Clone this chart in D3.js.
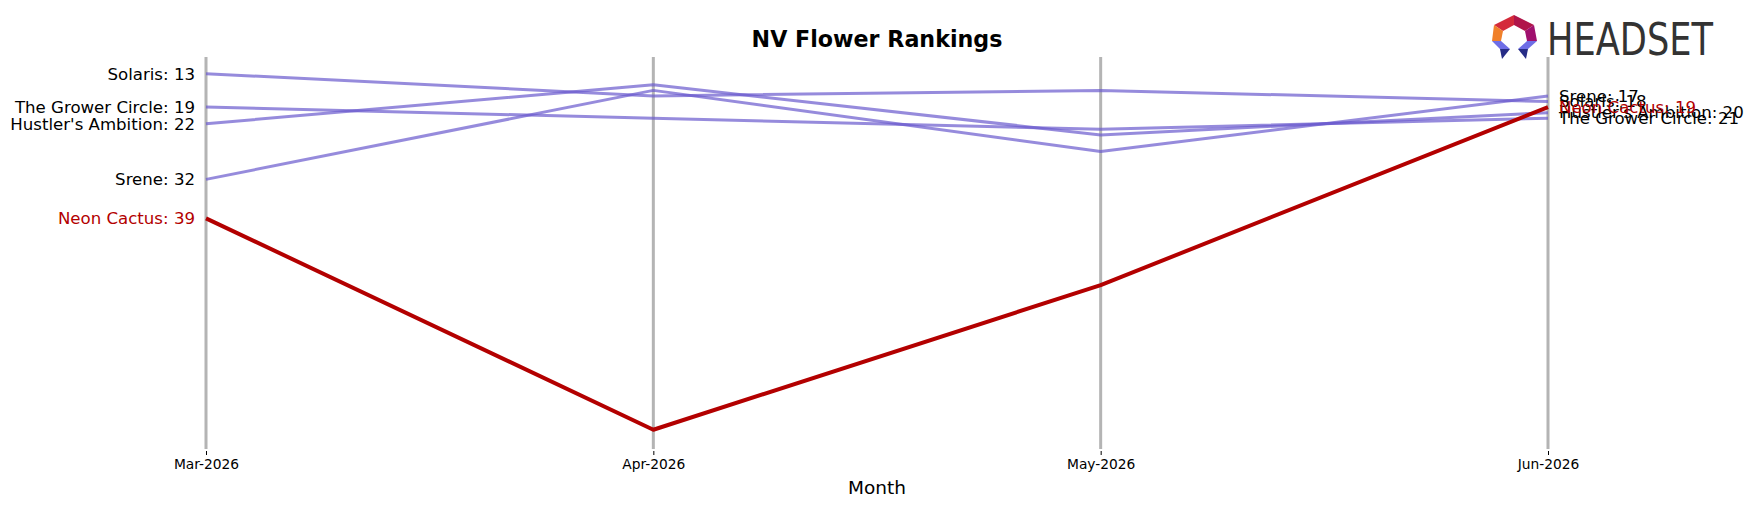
<!DOCTYPE html>
<html>
<head>
<meta charset="utf-8">
<script src="https://cdn.jsdelivr.net/npm/d3@7/dist/d3.min.js"></script>
<style>
    html, body { margin: 0; padding: 0; background: #fff; }
    text { font-family: "DejaVu Sans", sans-serif; }
</style>
</head>
<body>
<div id="chart"></div>
<script>
// 数据
const months = ["Mar-2026", "Apr-2026", "May-2026", "Jun-2026"];
const brandNames = ["Solaris", "The Grower Circle", "Hustler's Ambition", "Srene", "Neon Cactus"];
const solaris = [13, 17, 16, 18];
const growerCircle = [19, 21, 23, 21];
const hustlersAmbition = [22, 15, 24, 20];
const srene = [32, 16, 27, 17];
const neonCactus = [39, 77, 51, 19];
const highlightBrand = "Neon Cactus";

const seriesList = [solaris, growerCircle, hustlersAmbition, srene, neonCactus];
const brands = brandNames.map((name, i) => ({ name, ranks: seriesList[i] }));

// 尺寸
const width = 1754, height = 507;
const plot = { left: 206, right: 1548, top: 57, bottom: 452 };

const svg = d3.select("#chart").append("svg")
    .attr("width", width)
    .attr("height", height);

const allRanks = seriesList.flat();
const x = d3.scalePoint().domain(months).range([plot.left, plot.right]);
const y = d3.scaleLinear()
    .domain([d3.min(allRanks) - 3, d3.max(allRanks) + 4])
    .range([plot.top, plot.bottom]);

// 竖线
svg.append("g")
    .selectAll("line")
    .data(months)
    .enter().append("line")
    .attr("x1", d => x(d)).attr("x2", d => x(d))
    .attr("y1", plot.top).attr("y2", plot.bottom - 3)
    .attr("stroke", "#b4b4b4")
    .attr("stroke-width", 3);

// x 轴
const xAxis = svg.append("g")
    .attr("transform", `translate(0,${plot.bottom - 1})`)
    .call(d3.axisBottom(x).tickSize(4).tickPadding(4));
xAxis.select(".domain").remove();
xAxis.selectAll("text")
    .style("font-family", "DejaVu Sans")
    .style("font-size", "13.8px")
    .attr("fill", "#000");
xAxis.selectAll(".tick line").attr("stroke", "#000");

svg.append("text")
    .attr("x", (plot.left + plot.right) / 2)
    .attr("y", 494)
    .attr("text-anchor", "middle")
    .style("font-size", "18.5px")
    .text("Month");

// 标题
svg.append("text")
    .attr("x", (plot.left + plot.right) / 2)
    .attr("y", 47)
    .attr("text-anchor", "middle")
    .style("font-size", "22.2px")
    .style("font-weight", "bold")
    .text("NV Flower Rankings");

// 折线
const line = d3.line()
    .x((d, i) => x(months[i]))
    .y(d => y(d));

const ordered = brands.filter(b => b.name !== highlightBrand)
    .concat(brands.filter(b => b.name === highlightBrand));

svg.append("g")
    .selectAll("path")
    .data(ordered)
    .enter().append("path")
    .attr("d", d => line(d.ranks))
    .attr("fill", "none")
    .attr("stroke", d => d.name === highlightBrand ? "#b30000" : "#6a5acd")
    .attr("stroke-opacity", d => d.name === highlightBrand ? 1 : 0.7)
    .attr("stroke-width", d => d.name === highlightBrand ? 4 : 3)
    .attr("stroke-linejoin", "round");

// 左右标签
const labelColor = d => d.name === highlightBrand ? "#b30000" : "#000";

svg.append("g")
    .selectAll("text")
    .data(ordered)
    .enter().append("text")
    .attr("x", plot.left - 11)
    .attr("y", d => y(d.ranks[0]))
    .attr("dy", "0.35em")
    .attr("text-anchor", "end")
    .attr("fill", labelColor)
    .style("font-size", "16.6px")
    .text(d => `${d.name}: ${d.ranks[0]}`);

svg.append("g")
    .selectAll("text")
    .data(ordered)
    .enter().append("text")
    .attr("x", plot.right + 11)
    .attr("y", d => y(d.ranks[d.ranks.length - 1]))
    .attr("dy", "0.35em")
    .attr("text-anchor", "start")
    .attr("fill", labelColor)
    .style("font-size", "16.6px")
    .text(d => `${d.name}: ${d.ranks[d.ranks.length - 1]}`);

// Logo
const logo = svg.append("g").attr("class", "logo");
const logoParts = [
    { pts: [[1514, 15], [1494, 25], [1503, 31], [1514, 25]], fill: "#d42a3a" },
    { pts: [[1514, 15], [1534, 25], [1525, 31], [1514, 25]], fill: "#b0154a" },
    { pts: [[1494, 25], [1492, 41], [1501, 41], [1503, 31]], fill: "#f0802a" },
    { pts: [[1534, 25], [1537, 41], [1527, 41], [1525, 31]], fill: "#a0106e" },
    { pts: [[1492, 41], [1501, 41], [1510, 49], [1500, 49]], fill: "#6f6ee6" },
    { pts: [[1500, 49], [1510, 49], [1502, 59]], fill: "#262c86" },
    { pts: [[1537, 41], [1527, 41], [1518, 49], [1528, 49]], fill: "#6f6ee6" },
    { pts: [[1528, 49], [1518, 49], [1526, 59]], fill: "#262c86" }
];
logo.selectAll("polygon")
    .data(logoParts)
    .enter().append("polygon")
    .attr("points", d => d.pts.map(p => p.join(",")).join(" "))
    .attr("fill", d => d.fill);

logo.append("text")
    .attr("x", 1547)
    .attr("y", 55)
    .attr("textLength", 166)
    .attr("lengthAdjust", "spacingAndGlyphs")
    .attr("fill", "#333")
    .style("font-family", "'DejaVu Sans Condensed', 'DejaVu Sans', sans-serif")
    .style("font-size", "45px")
    .style("font-weight", "500")
    .text("HEADSET");
</script>
</body>
</html>
